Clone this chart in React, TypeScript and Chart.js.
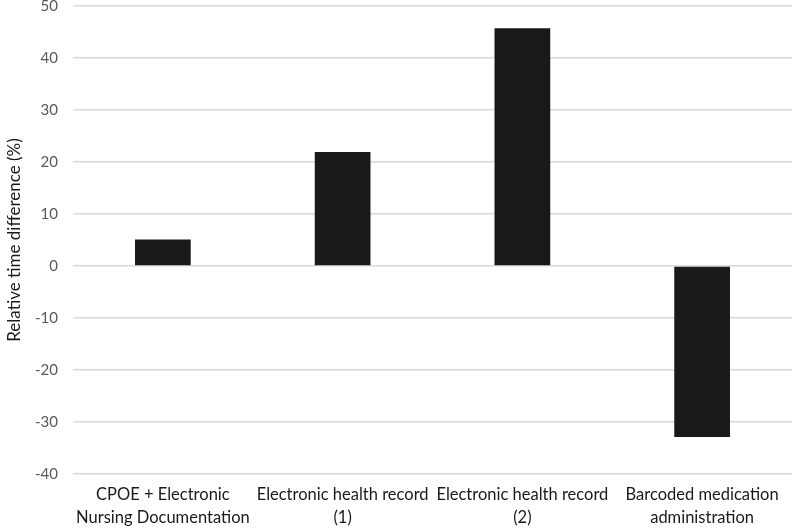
import React, { useEffect, useRef } from "react";
import { Chart, registerables } from "chart.js";

Chart.register(...registerables);

const categories: string[][] = [
  ["CPOE + Electronic", "Nursing Documentation"],
  ["Electronic health record", "(1)"],
  ["Electronic health record", "(2)"],
  ["Barcoded medication", "administration"],
];
const values: number[] = [5.1, 21.9, 45.7, -32.9];
const yTitle = "Relative time difference (%)";
const yMin = -40;
const yMax = 50;
const yStep = 10;

export default function App() {
  const ref = useRef<HTMLCanvasElement | null>(null);
  useEffect(() => {
    document.body.style.margin = "0";
    const ctx = ref.current!;
    const chart = new Chart(ctx, {
      type: "bar",
      data: {
        labels: categories,
        datasets: [
          {
            data: values,
            backgroundColor: "#191919",
            borderColor: "#191919",
            borderWidth: 0,
            categoryPercentage: 1,
            barPercentage: 0.31,
          },
        ],
      },
      options: {
        animation: false,
        responsive: false,
        maintainAspectRatio: false,
        layout: { padding: { top: 6, right: 0, left: 0, bottom: 0 } },
        plugins: { legend: { display: false }, tooltip: { enabled: false } },
        scales: {
          x: {
            grid: { display: false, drawTicks: false },
            border: { display: false },
            ticks: {
              color: "#1a1a1a",
              font: { family: "Lato", size: 16.5, lineHeight: 1.4 },
              maxRotation: 0,
              autoSkip: false,
              padding: 9,
            },
            afterFit: (s: any) => {
              s.height = 54;
              s.paddingLeft = 0;
              s.paddingRight = 0;
            },
          },
          y: {
            min: yMin,
            max: yMax,
            ticks: {
              stepSize: yStep,
              color: "#595959",
              font: { family: "Lato", size: 15 },
              padding: 15,
            },
            grid: { color: "#d9d9d9", lineWidth: 1.5, drawTicks: false },
            border: { display: false },
            title: {
              display: true,
              text: yTitle,
              color: "#1a1a1a",
              font: { family: "Lato", size: 17 },
              padding: { top: 4, bottom: 4 },
            },
            afterFit: (s: any) => {
              s.width = 73;
              s.paddingTop = 0;
              s.paddingBottom = 0;
            },
          },
        },
      },
    });
    return () => chart.destroy();
  }, []);
  return (
    <div style={{ position: "fixed", left: 0, top: 0, width: 792, height: 528, background: "#fff" }}>
      <canvas ref={ref} width={792} height={528} style={{ width: 792, height: 528 }} />
    </div>
  );
}
